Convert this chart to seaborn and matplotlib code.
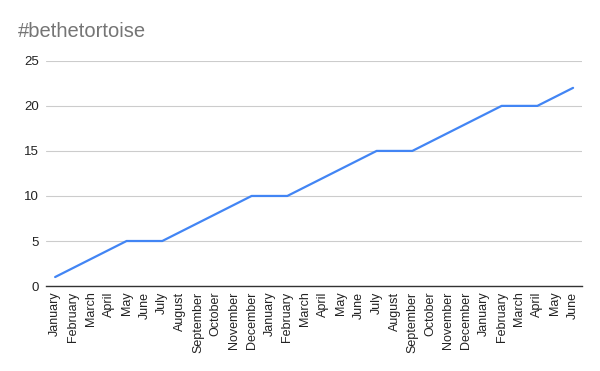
import pandas as pd
import seaborn as sns
import matplotlib.pyplot as plt

months = ["January", "February", "March", "April", "May", "June", "July",
          "August", "September", "October", "November", "December",
          "January", "February", "March", "April", "May", "June", "July",
          "August", "September", "October", "November", "December",
          "January", "February", "March", "April", "May", "June"]
values = [1, 2, 3, 4, 5, 5, 5, 6, 7, 8, 9, 10,
          10, 10, 11, 12, 13, 14, 15, 15, 15, 16, 17, 18,
          19, 20, 20, 20, 21, 22]

df = pd.DataFrame({"idx": range(len(months)), "value": values})

sns.set_style("white")
plt.rcParams["font.family"] = ["Liberation Sans", "DejaVu Sans"]

fig = plt.figure(figsize=(6, 3.71), dpi=100)
ax = fig.add_axes([0.077, 0.229, 0.893, 0.607])
sns.lineplot(data=df, x="idx", y="value", color="#4285F4", linewidth=1.6, ax=ax)

ax.set_xlim(-0.5, len(months) - 0.5)
ax.set_ylim(0, 25)
ax.set_yticks([0, 5, 10, 15, 20, 25])
ax.set_xticks(range(len(months)))
ax.set_xticklabels(months, rotation=90, fontsize=9, color="#222222")
ax.tick_params(axis="y", labelsize=9.5, colors="#222222", length=0, pad=5)
ax.tick_params(axis="x", length=0, pad=4)
ax.yaxis.grid(True, color="#cccccc", linewidth=0.8)
ax.set_axisbelow(True)
for s in ["top", "right", "left"]:
    ax.spines[s].set_visible(False)
ax.spines["bottom"].set_color("#333333")
ax.spines["bottom"].set_linewidth(1)
ax.set_xlabel("")
ax.set_ylabel("")

fig.text(0.03, 0.915, "#bethetortoise", fontsize=14.5, color="#757575", va="center")

fig.savefig("out.png", dpi=100)
